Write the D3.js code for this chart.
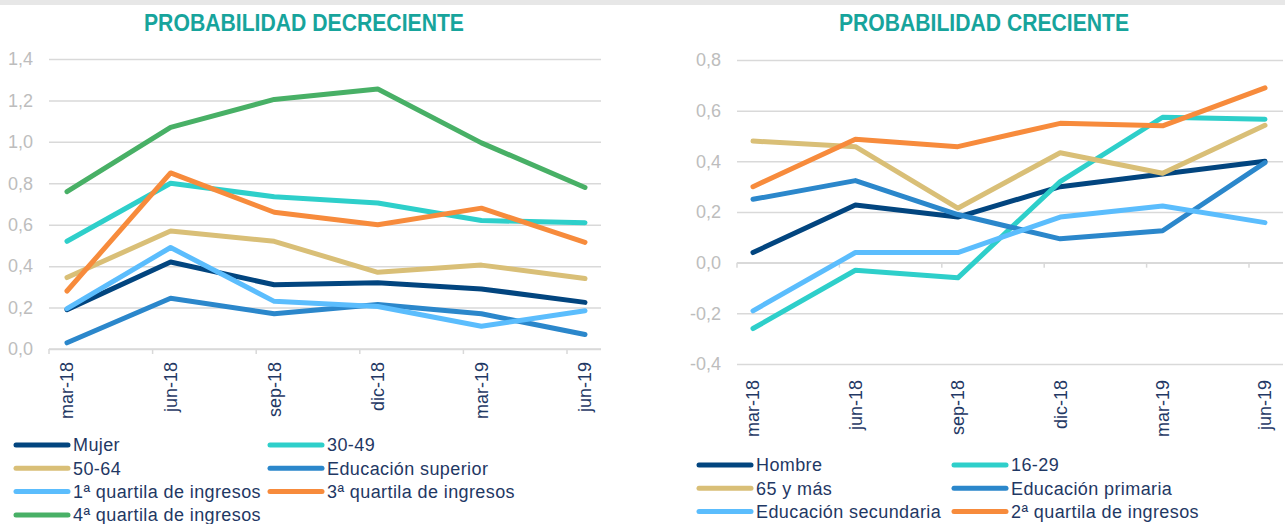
<!DOCTYPE html>
<html>
<head>
<meta charset="utf-8">
<script src="https://cdn.jsdelivr.net/npm/d3@7"></script>
<style>
  body { margin: 0; background: #fff; }
  svg { display: block; font-family: "Liberation Sans", Arial, sans-serif; }
</style>
</head>
<body>
<div id="chart"></div>
<script>
const periods = ["mar-18", "jun-18", "sep-18", "dic-18", "mar-19", "jun-19"];

// PROBABILIDAD DECRECIENTE
const decNames = ["Mujer", "30-49", "50-64", "Educación superior", "1ª quartila de ingresos", "3ª quartila de ingresos", "4ª quartila de ingresos"];
const mujer      = [0.19, 0.42, 0.31, 0.32, 0.29, 0.225];
const edad3049   = [0.52, 0.80, 0.735, 0.705, 0.62, 0.61];
const edad5064   = [0.345, 0.57, 0.52, 0.37, 0.405, 0.34];
const eduSup     = [0.03, 0.245, 0.17, 0.215, 0.17, 0.07];
const quart1     = [0.195, 0.49, 0.23, 0.205, 0.11, 0.185];
const quart3     = [0.28, 0.85, 0.66, 0.60, 0.68, 0.515];
const quart4     = [0.76, 1.07, 1.205, 1.255, 0.995, 0.78];
const decTicks   = [0, 0.2, 0.4, 0.6, 0.8, 1.0, 1.2, 1.4];

// PROBABILIDAD CRECIENTE
const creNames = ["Hombre", "16-29", "65 y más", "Educación primaria", "Educación secundaria", "2ª quartila de ingresos"];
const hombre     = [0.04, 0.228, 0.18, 0.30, 0.35, 0.40];
const edad1629   = [-0.26, -0.03, -0.06, 0.32, 0.574, 0.566];
const edad65     = [0.48, 0.458, 0.215, 0.434, 0.353, 0.542];
const eduPrim    = [0.25, 0.324, 0.19, 0.094, 0.126, 0.395];
const eduSec     = [-0.19, 0.04, 0.04, 0.18, 0.224, 0.158];
const quart2     = [0.30, 0.487, 0.458, 0.55, 0.54, 0.69];
const creTicks   = [-0.4, -0.2, 0, 0.2, 0.4, 0.6, 0.8];

const decColors = ["#02457f", "#2ecfca", "#d9bf77", "#2b87cb", "#5bbdfd", "#f78b3c", "#48b066"];
const creColors = ["#02457f", "#2ecfca", "#d9bf77", "#2b87cb", "#5bbdfd", "#f78b3c"];

const w = 1285;
const h = 524;
const fmt = d3.formatLocale({decimal: ",", thousands: ".", grouping: [3], currency: ["", ""], minus: "-"}).format(".1f");

const svg = d3.select("#chart")
    .append("svg")
    .attr("width", w)
    .attr("height", h);

svg.append("rect")
    .attr("x", 0).attr("y", 0)
    .attr("width", w).attr("height", 5)
    .attr("fill", "#e7e7e7");

let drawChart = function(cfg) {
    const xScale = d3.scalePoint()
        .domain(periods)
        .range([cfg.x0, cfg.x1]);
    const yScale = d3.scaleLinear()
        .domain(d3.extent(cfg.ticks))
        .range([cfg.bottom, cfg.top]);

    svg.append("text")
        .text(cfg.title)
        .attr("x", cfg.titleX)
        .attr("y", 31)
        .attr("text-anchor", "middle")
        .attr("textLength", cfg.titleW)
        .attr("lengthAdjust", "spacingAndGlyphs")
        .style("font-size", "24px")
        .style("font-weight", "bold")
        .style("fill", "#17a49c");

    // gridlines + y labels
    const yAxis = svg.append("g")
        .attr("transform", "translate(" + cfg.left + ",0)")
        .call(d3.axisLeft(yScale).tickValues(cfg.ticks).tickFormat(fmt)
            .tickSize(-(cfg.right - cfg.left)).tickPadding(16));
    yAxis.select(".domain").remove();
    yAxis.selectAll(".tick line").attr("stroke", "#d9d9d9").attr("stroke-width", 1.5);
    yAxis.selectAll(".tick text")
        .style("font-size", "18px")
        .style("font-family", "Liberation Sans, Arial, sans-serif")
        .style("fill", "#bdbdbd");

    // category axis line
    const zeroY = yScale(0);
    svg.append("line")
        .attr("x1", cfg.left).attr("x2", cfg.right)
        .attr("y1", zeroY).attr("y2", zeroY)
        .attr("stroke", "#d9d9d9").attr("stroke-width", 1.5);
    svg.selectAll(null)
        .data(periods)
        .enter()
        .append("line")
        .attr("x1", d => xScale(d) - cfg.tickOff)
        .attr("x2", d => xScale(d) - cfg.tickOff)
        .attr("y1", zeroY).attr("y2", zeroY + 5)
        .attr("stroke", "#d9d9d9").attr("stroke-width", 1.5);

    svg.selectAll(null)
        .data(periods)
        .enter()
        .append("text")
        .text(d => d)
        .attr("transform", d => "translate(" + xScale(d) + "," + cfg.labelY + ") rotate(-90)")
        .attr("text-anchor", "end")
        .attr("dy", "0.35em")
        .style("font-size", "18px")
        .style("fill", "#1f3864");

    const line = d3.line()
        .x((d, i) => xScale(periods[i]))
        .y(d => yScale(d));

    svg.selectAll(null)
        .data(cfg.series)
        .enter()
        .append("path")
        .attr("d", d => line(d))
        .attr("fill", "none")
        .attr("stroke", (d, i) => cfg.colors[i])
        .attr("stroke-width", 5)
        .attr("stroke-linecap", "round")
        .attr("stroke-linejoin", "round");

    // legend, two columns filled row by row
    const leg = svg.selectAll(null)
        .data(cfg.names)
        .enter()
        .append("g")
        .attr("transform", (d, i) => "translate(" + cfg.legX[i % 2] + "," + (cfg.legY + Math.floor(i / 2) * 23.3) + ")");
    leg.append("line")
        .attr("x1", 0).attr("x2", cfg.swatchW)
        .attr("y1", 0).attr("y2", 0)
        .attr("stroke", (d, i) => cfg.colors[i])
        .attr("stroke-width", 5)
        .attr("stroke-linecap", "round");
    leg.append("text")
        .text(d => d)
        .attr("x", cfg.swatchW + 5)
        .attr("dy", "0.35em")
        .style("font-size", "18px")
        .style("letter-spacing", "0.4px")
        .style("fill", "#1f3864");
};

drawChart({
    title: "PROBABILIDAD DECRECIENTE", titleX: 304, titleW: 320,
    left: 49, right: 601, top: 59, bottom: 349,
    x0: 67, x1: 585, tickOff: 18, labelY: 362,
    ticks: decTicks,
    series: [mujer, edad3049, edad5064, eduSup, quart1, quart3, quart4],
    names: decNames, colors: decColors,
    legX: [16, 270], legY: 445, swatchW: 52
});

drawChart({
    title: "PROBABILIDAD CRECIENTE", titleX: 984, titleW: 290,
    left: 737, right: 1283, top: 60, bottom: 364,
    x0: 753, x1: 1265, tickOff: 16, labelY: 380,
    ticks: creTicks,
    series: [hombre, edad1629, edad65, eduPrim, eduSec, quart2],
    names: creNames, colors: creColors,
    legX: [699, 954], legY: 465, swatchW: 52
});
</script>
</body>
</html>
